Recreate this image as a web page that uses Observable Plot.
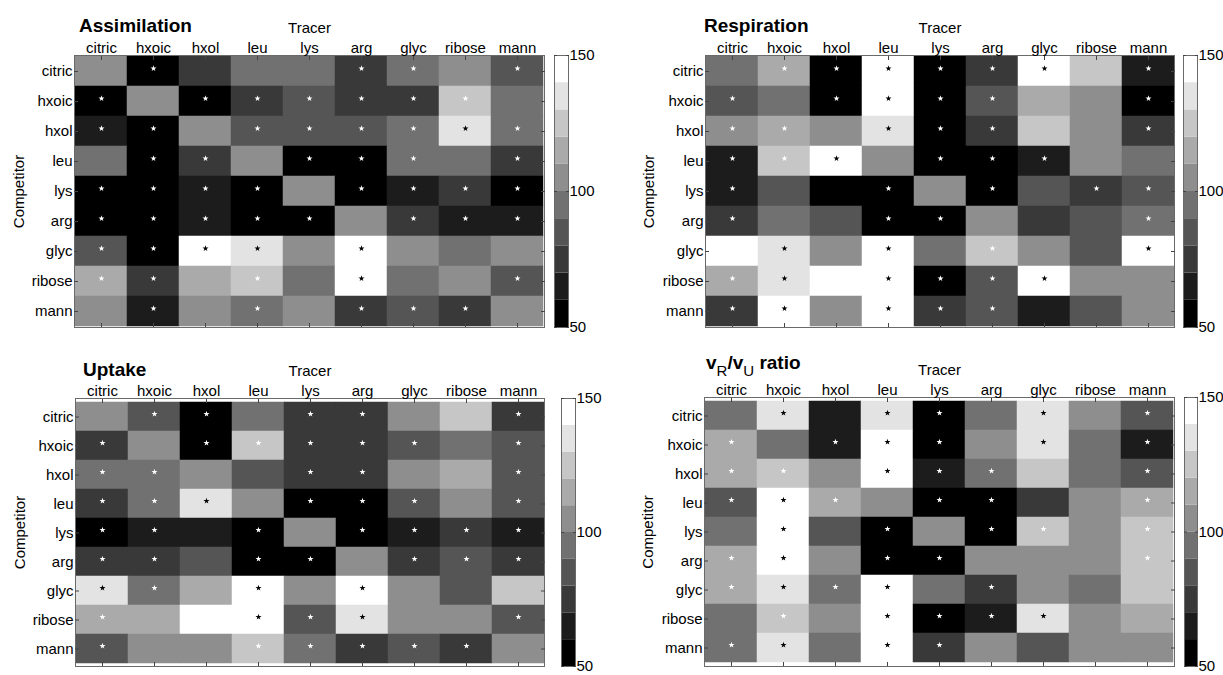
<!DOCTYPE html>
<html><head><meta charset="utf-8">
<script src="https://cdn.jsdelivr.net/npm/d3@7"></script>
<script src="https://cdn.jsdelivr.net/npm/@observablehq/plot@0.6"></script>
<style>
body{margin:0;background:#fff;}
#root{position:relative;width:1223px;height:675px;overflow:hidden;font-family:"Liberation Sans",Arial,sans-serif;}
#root > div.slot{position:absolute;}
.title{position:absolute;font-weight:bold;font-size:19px;line-height:19px;white-space:nowrap;color:#000;}
.title sub{font-weight:normal;font-size:15px;vertical-align:baseline;position:relative;top:7px;}
</style></head><body><div id="root"></div>
<script>
const tracers = ["citric","hxoic","hxol","leu","lys","arg","glyc","ribose","mann"];
const competitors = ["citric","hxoic","hxol","leu","lys","arg","glyc","ribose","mann"];
const colorTicks = [50, 100, 150];
const colorBins = [50, 60, 70, 80, 90, 100, 110, 120, 130, 140];
const binEdges = [60, 70, 80, 90, 100, 110, 120, 130, 140];
const grayLevels = ["#000000","#1c1c1c","#393939","#555555","#717171","#8e8e8e","#aaaaaa","#c6c6c6","#e3e3e3","#ffffff"];

// rows = competitor, columns = tracer (% of control)
const assimilation = [
  [105, 55, 75, 95, 95, 75, 95,105, 85],
  [ 55,105, 55, 75, 85, 75, 75,125, 95],
  [ 65, 55,105, 85, 85, 85, 95,135, 95],
  [ 95, 55, 75,105, 55, 55, 95, 95, 75],
  [ 55, 55, 65, 55,105, 55, 65, 75, 55],
  [ 55, 55, 65, 55, 55,105, 75, 65, 65],
  [ 85, 55,145,135,105,145,105, 95,105],
  [115, 75,115,125, 95,145, 95,105, 85],
  [105, 65,105, 95,105, 75, 85, 75,105]
];
const assimilationStars = [".w...ww.w","w.wwwwww.","ww.wwwwbw",".ww.www.w","wwww.wwww","wwwww.www","wwbb.b...","ww.w.b..w",".w.w.www."];

const respiration = [
  [ 95,115, 55,145, 55, 75,145,125, 65],
  [ 85, 95, 55,145, 55, 85,115,105, 55],
  [105,115,105,135, 55, 75,125,105, 75],
  [ 65,125,145,105, 55, 55, 65,105, 95],
  [ 65, 85, 55, 55,105, 55, 85, 75, 85],
  [ 75, 95, 85, 55, 55,105, 75, 85, 95],
  [145,135,105,145, 95,125,105, 85,145],
  [115,135,145,145, 55, 85,145,105,105],
  [ 75,145,105,145, 75, 85, 65, 85,105]
];
const respirationStars = [".wwbwwb.w","w.wbww..w","ww.bww..w","wwb.www..","w..w.w.ww","w..ww...w",".b.b.w..b","wb.bwwb..","wb.bww..."];

const uptake = [
  [105, 85, 55, 95, 75, 75,105,125, 75],
  [ 75,105, 55,125, 75, 75, 85, 95, 85],
  [ 95, 95,105, 85, 75, 75,105,115, 85],
  [ 75, 95,135,105, 55, 55, 85,105, 85],
  [ 55, 65, 65, 55,105, 55, 65, 75, 65],
  [ 75, 75, 85, 55, 55,105, 75, 85, 75],
  [135, 95,115,145,105,145,105, 85,125],
  [115,115,145,145, 85,135,105,105, 85],
  [ 85,105,105,125, 95, 75, 85, 75,105]
];
const uptakeStars = [".ww.ww..w","w.wwwww.w","ww..ww..w","wwb.www.w","ww.w.wwww","ww.ww.www","bw.b.b...","w..bwb..w","w..wwwww."];

const ratio = [
  [ 95,135, 65,135, 55, 95,135,105, 85],
  [115, 95, 65,145, 55,105,135, 95, 65],
  [115,125,105,145, 65, 95,125, 95, 85],
  [ 85,145,115,105, 55, 55, 75,105,115],
  [ 95,145, 85, 55,105, 55,125,105,125],
  [115,145,105, 55, 55,105,105,105,125],
  [115,135, 95,145, 95, 75,105, 95,125],
  [ 95,125,105,145, 55, 65,135,105,115],
  [ 95,135, 95,145, 75,105, 85,105,105]
];
const ratioStars = [".b.bw.b.w","w.wbw.b.w","ww.bww..w","wbw.ww..w",".b.w.ww.w","wb.ww...w","wbwb.w...",".w.bwwb..","wb.bw...."];

const FONT = "'Liberation Sans', Arial, sans-serif";
const colorScale = {type: "threshold", domain: binEdges, range: grayLevels};

function toCells(matrix, stars) {
  const cells = [];
  competitors.forEach((c, i) => tracers.forEach((t, j) => {
    cells.push({competitor: c, tracer: t, value: matrix[i][j], star: stars[i][j]});
  }));
  return cells;
}

function heatmap(cells, o) {
  return Plot.plot({
    width: o.w, height: o.h,
    marginLeft: o.ml, marginRight: o.mr, marginTop: o.mt, marginBottom: o.mb,
    style: {fontFamily: FONT, fontSize: "15px", background: "transparent", overflow: "visible", color: "#000"},
    x: {type: "band", domain: tracers, padding: 0, axis: null},
    y: {type: "band", domain: competitors, padding: 0, axis: null},
    color: colorScale,
    marks: [
      Plot.cell(cells, {x: "tracer", y: "competitor", fill: "value", inset: -0.25}),
      Plot.dot(cells.filter(d => d.star === "w"), {x: "tracer", y: "competitor", symbol: "star", r: 1.9, dy: -3, fill: "white", stroke: "none"}),
      Plot.dot(cells.filter(d => d.star === "b"), {x: "tracer", y: "competitor", symbol: "star", r: 1.9, dy: -3, fill: "black", stroke: "none"}),
      Plot.frame({stroke: "#6a6a6a"}),
      Plot.axisX({anchor: "top", tickSize: -4, tickPadding: 6.5, label: null, stroke: "#444"}),
      Plot.axisX({anchor: "bottom", tickSize: -4, tickFormat: () => "", label: null, stroke: "#444"}),
      Plot.axisY({anchor: "left", tickSize: -4, tickPadding: 6, label: null, stroke: "#444"}),
      Plot.axisY({anchor: "right", tickSize: -4, tickFormat: () => "", label: null, stroke: "#444"}),
      Plot.text(["Tracer"], {frameAnchor: "top", text: d => d, dy: -27.8, lineAnchor: "middle", textAnchor: "middle", fontSize: 15}),
      Plot.text(["Competitor"], {frameAnchor: "left", text: d => d, rotate: -90, dx: o.cdx, lineAnchor: "middle", textAnchor: "middle", fontSize: 15})
    ]
  });
}

function colorbar(o) {
  return Plot.plot({
    width: o.w, height: o.h,
    marginLeft: o.ml, marginRight: o.mr, marginTop: o.mt, marginBottom: o.mb,
    style: {fontFamily: FONT, fontSize: "15px", background: "transparent", overflow: "visible", color: "#000"},
    y: {domain: [50, 150], axis: null},
    color: colorScale,
    marks: [
      Plot.rect(colorBins, {y1: d => d, y2: d => d + 10, fill: d => d + 5}),
      Plot.frame({stroke: "#6a6a6a"}),
      Plot.axisY({anchor: "right", ticks: colorTicks, tickSize: -3, tickPadding: 4, label: null, stroke: "#444"}),
      Plot.axisY({anchor: "left", ticks: colorTicks, tickSize: -3, tickFormat: () => "", label: null, stroke: "#444"})
    ]
  });
}

const root = document.getElementById("root");
function place(el, left, top) {
  const d = document.createElement("div");
  d.className = "slot";
  d.style.left = left + "px"; d.style.top = top + "px";
  d.appendChild(el);
  root.appendChild(d);
}
function title(html, left, top) {
  const d = document.createElement("div");
  d.className = "title";
  d.style.left = left + "px"; d.style.top = top + "px";
  d.innerHTML = html;
  root.appendChild(d);
}

// panel 1: Assimilation
place(heatmap(toCells(assimilation, assimilationStars), {w: 550, h: 335, ml: 74, mr: 6, mt: 55, mb: 8, cdx: -55}), 0, 0);
place(colorbar({w: 60, h: 300, ml: 4, mr: 42, mt: 15, mb: 13}), 550, 40);
title("Assimilation", 79, 16);

// panel 2: Respiration
place(heatmap(toCells(respiration, respirationStars), {w: 559, h: 335, ml: 85, mr: 5, mt: 55, mb: 8, cdx: -56}), 620, 0);
place(colorbar({w: 44, h: 300, ml: 4, mr: 26, mt: 15, mb: 13}), 1179, 40);
title("Respiration", 704, 16);

// panel 3: Uptake
place(heatmap(toCells(uptake, uptakeStars), {w: 550, h: 333, ml: 75, mr: 6, mt: 58, mb: 7, cdx: -55}), 0, 340);
place(colorbar({w: 60, h: 293, ml: 5, mr: 41, mt: 18, mb: 7}), 556, 380);
title("Uptake", 83, 360);

// panel 4: vR/vU ratio
place(heatmap(toCells(ratio, ratioStars), {w: 559, h: 333, ml: 84, mr: 5, mt: 57, mb: 7, cdx: -56}), 620, 340);
place(colorbar({w: 43, h: 293, ml: 4, mr: 26, mt: 17, mb: 7}), 1180, 380);
title("v<sub>R</sub>/v<sub>U</sub> ratio", 706, 353);
</script></body></html>
